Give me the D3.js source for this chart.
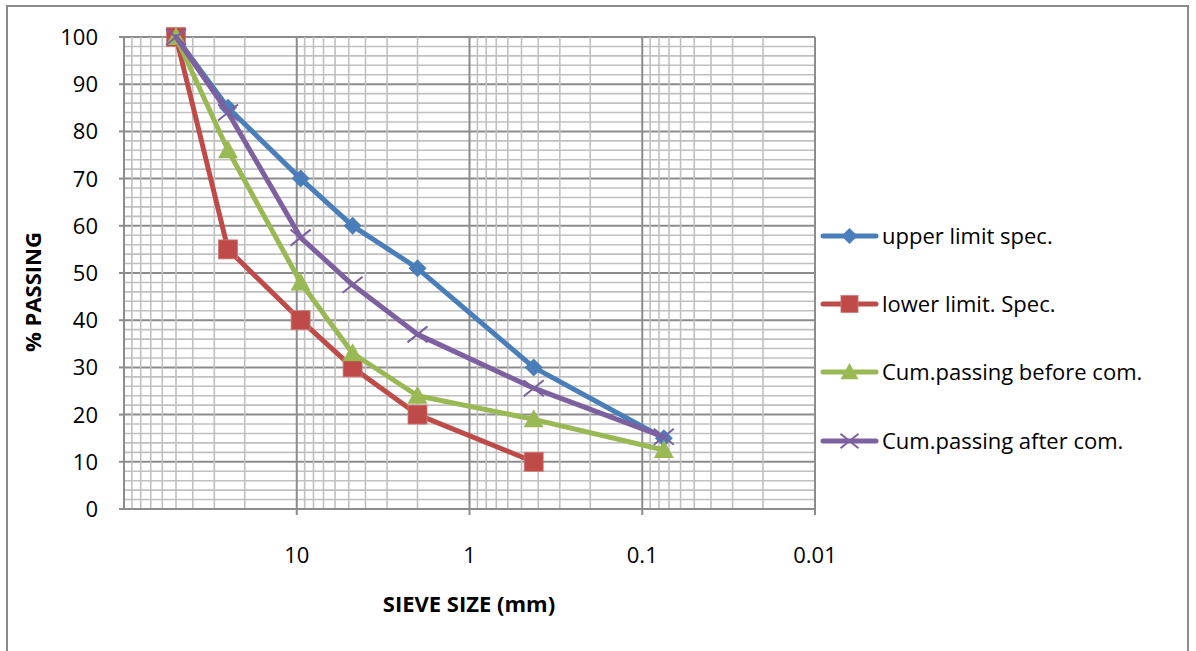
<!DOCTYPE html>
<html><head><meta charset="utf-8">
<script src="https://cdn.jsdelivr.net/npm/d3@7"></script>
<style>body{margin:0;background:#fff}svg{display:block}text{font-family:"Open Sans",sans-serif;fill:#000}</style>
</head><body>
<svg id="c" width="1196" height="651"></svg>
<script>
// Data
const sieveSizes = [50, 25, 9.5, 4.75, 2.0, 0.425, 0.075];
const upperLimit = [100, 85, 70, 60, 51, 30, 15];
const lowerLimit = [100, 55, 40, 30, 20, 10, null];
const beforeCom  = [100, 76, 48, 33, 24, 19, 12.5];
const afterCom   = [100, 84, 57.5, 47.5, 37, 25.6, 15.3];
const seriesNames = ["upper limit spec.", "lower limit. Spec.", "Cum.passing before com.", "Cum.passing after com."];
const xTickLabels = ["10", "1", "0.1", "0.01"];
const xTickValues = [10, 1, 0.1, 0.01];
const yTickValues = [0,10,20,30,40,50,60,70,80,90,100];

const colors = ["#4A7EBB", "#BE4B48", "#98B954", "#7D60A0"];
const markers = ["diamond", "square", "triangle", "x"];
const seriesData = [upperLimit, lowerLimit, beforeCom, afterCom];

const svg = d3.select("#c");
const L = 124, R = 815, T = 37, B = 509;
const x = d3.scaleLog().domain([100, 0.01]).range([L, R]);
const y = d3.scaleLinear().domain([0, 100]).range([B, T]);
const FS = 22;

svg.append("rect").attr("x", 7).attr("y", 6).attr("width", 1181).attr("height", 660)
  .attr("fill", "none").attr("stroke", "#8a8a8a").attr("stroke-width", 2);

const grid = svg.append("g");
d3.range(0, 101, 2).forEach(v => {
  const major = v % 10 === 0;
  grid.append("line").attr("x1", L).attr("x2", R).attr("y1", y(v)).attr("y2", y(v))
    .attr("stroke", major ? "#8c8c8c" : "#c0c0c0").attr("stroke-width", major ? 2 : 1.6);
});
const decades = [10, 1, 0.1, 0.01];
decades.forEach(d => {
  for (let k = 2; k <= 9; k++) {
    const v = d * k;
    grid.append("line").attr("x1", x(v)).attr("x2", x(v)).attr("y1", T).attr("y2", B)
      .attr("stroke", "#c0c0c0").attr("stroke-width", 1.6);
  }
});
[100, 10, 1, 0.1, 0.01].forEach(v => {
  grid.append("line").attr("x1", x(v)).attr("x2", x(v)).attr("y1", T).attr("y2", B)
    .attr("stroke", "#8c8c8c").attr("stroke-width", 2);
});
svg.append("line").attr("x1", L).attr("x2", L).attr("y1", T).attr("y2", B).attr("stroke", "#8c8c8c").attr("stroke-width", 2);
svg.append("line").attr("x1", L).attr("x2", R).attr("y1", B).attr("y2", B).attr("stroke", "#8c8c8c").attr("stroke-width", 2);
xTickValues.forEach((v, i) => {
  svg.append("line").attr("x1", x(v)).attr("x2", x(v)).attr("y1", B).attr("y2", B + 6).attr("stroke", "#8c8c8c").attr("stroke-width", 2);
  svg.append("text").attr("x", x(v)).attr("y", 563).attr("text-anchor", "middle")
    .attr("font-size", FS).text(xTickLabels[i]);
});
yTickValues.forEach(v => {
  svg.append("line").attr("x1", L - 5).attr("x2", L).attr("y1", y(v)).attr("y2", y(v)).attr("stroke", "#8c8c8c").attr("stroke-width", 2);
  svg.append("text").attr("x", 98).attr("y", y(v) + 8).attr("text-anchor", "end")
    .attr("font-size", FS).text(v);
});
svg.append("text").attr("x", 469).attr("y", 612).attr("text-anchor", "middle")
  .attr("font-size", FS).attr("font-weight", "bold").text("SIEVE SIZE (mm)");
svg.append("text").attr("transform", "translate(41,292) rotate(-90)").attr("text-anchor", "middle")
  .attr("font-size", FS).attr("font-weight", "bold").text("% PASSING");

function drawMarker(g, type, cx, cy, color, s) {
  if (type === "diamond") {
    const h = 9 * s;
    g.append("path").attr("d", `M${cx},${cy-h}L${cx+h},${cy}L${cx},${cy+h}L${cx-h},${cy}Z`).attr("fill", color);
  } else if (type === "square") {
    const h = 9.5 * s;
    g.append("rect").attr("x", cx - h).attr("y", cy - h).attr("width", 2*h).attr("height", 2*h)
      .attr("fill", color).attr("stroke", "#cf7b79").attr("stroke-width", 0.8);
  } else if (type === "triangle") {
    const w = 10 * s, t = 10 * s, b = 8 * s;
    g.append("path").attr("d", `M${cx},${cy-t}L${cx+w},${cy+b}L${cx-w},${cy+b}Z`).attr("fill", color);
  } else {
    const h = 10 * s;
    g.append("path").attr("d", `M${cx-h},${cy-h*0.8}L${cx+h},${cy+h*0.8}M${cx-h},${cy+h*0.8}L${cx+h},${cy-h*0.8}`)
      .attr("stroke", color).attr("stroke-width", 2).attr("fill", "none");
  }
}

const line = d3.line().x(d => x(d[0])).y(d => y(d[1]));
seriesData.forEach((vals, i) => {
  const g = svg.append("g");
  const pts = sieveSizes.map((s, j) => [s, vals[j]]).filter(d => d[1] != null);
  g.append("path").attr("d", line(pts)).attr("fill", "none").attr("stroke", colors[i])
    .attr("stroke-width", 5).attr("stroke-linejoin", "round").attr("stroke-linecap", "round");
  pts.forEach(p => drawMarker(g, markers[i], x(p[0]), y(p[1]), colors[i], 1));
});

const legY = [236, 304, 372, 441];
seriesNames.forEach((n, i) => {
  const g = svg.append("g");
  g.append("line").attr("x1", 823).attr("x2", 876).attr("y1", legY[i]).attr("y2", legY[i])
    .attr("stroke", colors[i]).attr("stroke-width", 5).attr("stroke-linecap", "round");
  drawMarker(g, markers[i], 849.5, legY[i], colors[i], 0.9);
  g.append("text").attr("x", 882).attr("y", legY[i] + 7.5).attr("font-size", FS).text(n);
});
</script>
</body></html>
